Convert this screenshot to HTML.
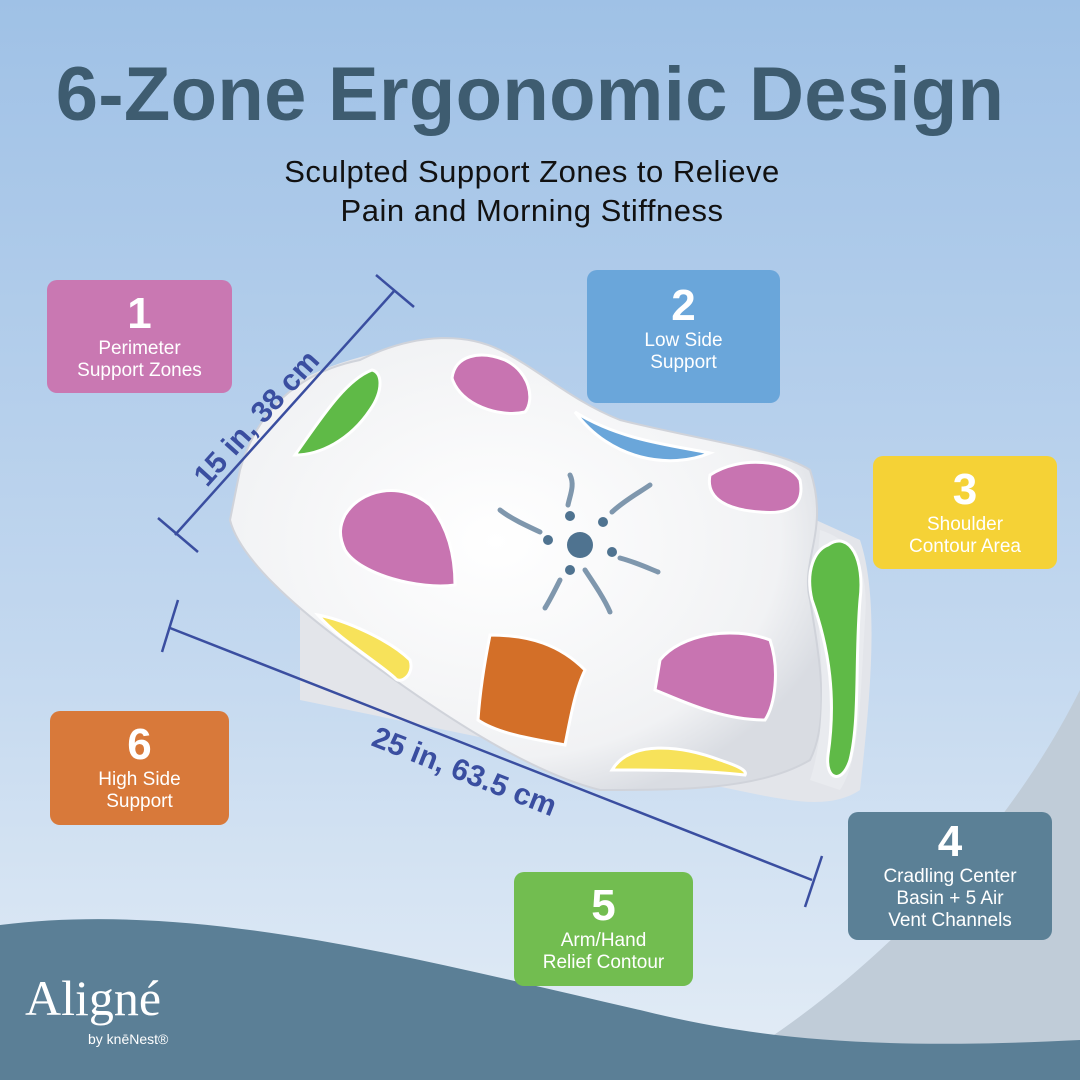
<!DOCTYPE html>
<html><head><meta charset="utf-8"><style>
*{margin:0;padding:0}
body{width:1080px;height:1080px;overflow:hidden;font-family:"Liberation Sans",sans-serif}
.box{position:absolute;border-radius:10px;color:#fff;text-align:center;font-size:19px;line-height:22px}
.box b{display:block;font-size:44px;line-height:44px;margin-top:12px;margin-bottom:2px}
</style></head><body>
<svg width="1080" height="1080" style="position:absolute;left:0;top:0">
<defs>
<linearGradient id="bg" x1="0" y1="0" x2="0" y2="1">
<stop offset="0" stop-color="#9fc1e6"/><stop offset="0.6" stop-color="#c3d8ef"/><stop offset="1" stop-color="#e4edf6"/></linearGradient>
<radialGradient id="pw" cx="0.45" cy="0.45" r="0.6"><stop offset="0" stop-color="#ffffff"/><stop offset="0.8" stop-color="#f1f2f4"/><stop offset="1" stop-color="#d9dce2"/></radialGradient>
</defs>
<rect width="1080" height="1080" fill="url(#bg)"/>
<path d="M700 1080 C850 1000 1000 850 1080 690 L1080 1080 Z" fill="#c0ccd8"/>
<path d="M0 925 C200 900 420 960 640 1010 C760 1040 880 1050 1080 1040 L1080 1080 L0 1080 Z" fill="#5b7f96"/>
<path d="M300 380 C340 360 380 350 430 345 L860 540 C880 600 870 700 860 790 C830 810 790 800 760 795 L300 700 Z" fill="#e3e5ea"/>
<path d="M240 470 C260 400 310 370 360 360 C420 330 470 335 500 350 C540 370 570 400 620 420 C700 440 780 450 810 470 C830 530 800 560 810 600 C820 660 830 720 810 760 C760 790 680 790 600 790 C520 770 420 700 340 640 C300 610 240 560 230 520 Z" fill="url(#pw)" stroke="#d0d3da" stroke-width="2"/>
<path d="M820 530 C850 540 870 560 865 620 C860 700 860 760 840 790 L810 780 C830 720 820 640 815 590 Z" fill="#e9ebef"/>
<path d="M295 455 C320 420 345 380 372 370 C382 372 384 390 370 410 C350 440 320 455 295 455Z" fill="#5fba47" stroke="#fff" stroke-width="3"/>
<path d="M828 545 C850 530 865 560 860 600 C855 660 860 720 850 760 C842 785 825 780 828 755 C836 700 830 650 812 600 C805 570 815 550 828 545Z" fill="#5fba47" stroke="#fff" stroke-width="3"/>
<path d="M452 378 C455 355 480 350 505 360 C530 372 535 400 525 412 C500 418 460 405 452 378Z" fill="#c874b1" stroke="#fff" stroke-width="3"/>
<path d="M710 475 C740 455 790 460 800 480 C805 505 790 515 760 512 C730 510 705 500 710 475Z" fill="#c874b1" stroke="#fff" stroke-width="3"/>
<path d="M345 515 C360 490 400 480 430 505 C450 530 455 560 455 585 C420 590 360 575 345 550 C338 535 340 525 345 515Z" fill="#c874b1" stroke="#fff" stroke-width="3"/>
<path d="M660 660 C680 635 730 625 770 640 C780 670 775 705 765 720 C720 720 680 700 655 690 Z" fill="#c874b1" stroke="#fff" stroke-width="3"/>
<path d="M575 412 C620 440 670 445 710 453 C670 470 610 460 575 412Z" fill="#6aa6da" stroke="#fff" stroke-width="3"/>
<path d="M490 635 C530 635 560 645 585 670 C575 690 570 720 565 745 C540 740 500 735 478 720 C480 690 485 660 490 635Z" fill="#d36f28" stroke="#fff" stroke-width="3"/>
<path d="M318 615 C345 620 390 640 410 660 C415 675 400 685 395 678 C375 660 340 640 318 615Z" fill="#f7e25a" stroke="#fff" stroke-width="3"/>
<path d="M612 770 C630 740 680 745 720 760 C735 765 748 770 745 775 C700 770 650 770 612 770Z" fill="#f7e25a" stroke="#fff" stroke-width="3"/>
<g fill="#4f7390"><circle cx="580" cy="545" r="13"/><circle cx="548" cy="540" r="5"/><circle cx="570" cy="516" r="5"/><circle cx="603" cy="522" r="5"/><circle cx="612" cy="552" r="5"/><circle cx="570" cy="570" r="5"/></g>
<g stroke="#7f97ad" stroke-width="5" fill="none" stroke-linecap="round">
<path d="M540 532 C525 525 510 518 500 510"/><path d="M568 505 C570 495 575 485 570 475"/>
<path d="M612 512 C625 500 640 492 650 485"/><path d="M620 558 C635 562 648 568 658 572"/>
<path d="M560 580 C555 590 550 600 545 608"/><path d="M585 570 C595 585 605 600 610 612"/></g>
<g stroke="#3a4ea0" stroke-width="2.5">
<line x1="175" y1="535" x2="395" y2="290"/><line x1="158" y1="518" x2="198" y2="552"/><line x1="376" y1="275" x2="414" y2="307"/>
<line x1="170" y1="628" x2="812" y2="880"/><line x1="178" y1="600" x2="162" y2="652"/><line x1="822" y1="856" x2="805" y2="907"/>
</g>
<text x="0" y="0" transform="translate(207 488) rotate(-48)" font-family="Liberation Sans" font-weight="bold" font-size="30" fill="#3a4ea0">15 in, 38 cm</text>
<text x="0" y="0" transform="translate(370 745) rotate(21.5)" font-family="Liberation Sans" font-weight="bold" font-size="30" fill="#3a4ea0">25 in, 63.5 cm</text>
<text x="530" y="120" text-anchor="middle" font-family="Liberation Sans" font-weight="bold" font-size="76" letter-spacing="0.3" fill="#3e5c70">6-Zone Ergonomic Design</text>
<text x="532" y="182" text-anchor="middle" font-family="Liberation Sans" font-size="31" letter-spacing="0.5" fill="#111">Sculpted Support Zones to Relieve</text>
<text x="532" y="221" text-anchor="middle" font-family="Liberation Sans" font-size="31" letter-spacing="0.5" fill="#111">Pain and Morning Stiffness</text>
<text x="25" y="1015" font-family="Liberation Serif" font-size="50" fill="#fff">Aligné</text>
<text x="88" y="1044" font-family="Liberation Sans" font-size="14" fill="#fff">by knēNest®</text>
</svg>
<div class="box" style="left:47px;top:280px;width:185px;height:113px;background:#c978b2"><b>1</b>Perimeter<br>Support Zones</div>
<div class="box" style="left:587px;top:270px;width:193px;height:133px;background:#6aa6da"><b style="margin-top:14px">2</b>Low Side<br>Support</div>
<div class="box" style="left:873px;top:456px;width:184px;height:113px;background:#f5d236"><b>3</b>Shoulder<br>Contour Area</div>
<div class="box" style="left:50px;top:711px;width:179px;height:114px;background:#d8793a"><b>6</b>High Side<br>Support</div>
<div class="box" style="left:848px;top:812px;width:204px;height:128px;background:#5b8096"><b style="margin-top:8px">4</b>Cradling Center<br>Basin + 5 Air<br>Vent Channels</div>
<div class="box" style="left:514px;top:872px;width:179px;height:114px;background:#72bd50"><b>5</b>Arm/Hand<br>Relief Contour</div>
</body></html>
